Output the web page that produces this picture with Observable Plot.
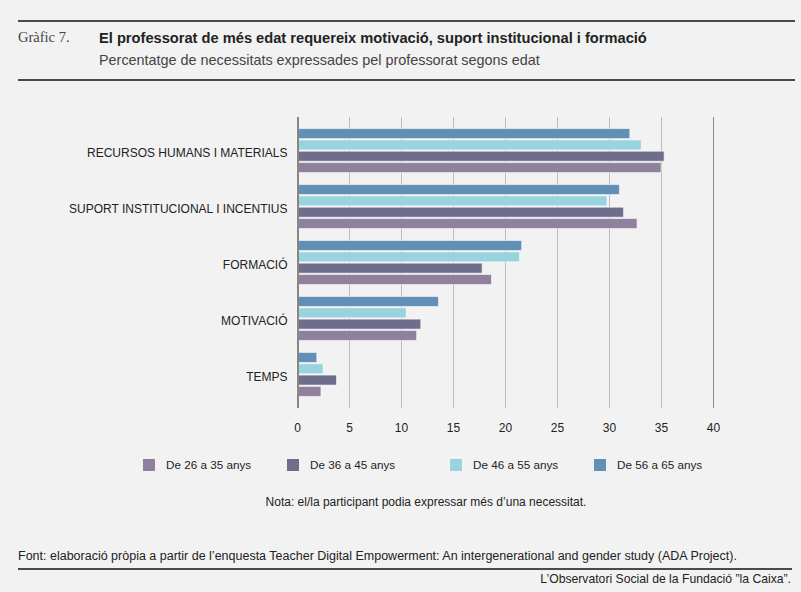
<!DOCTYPE html>
<html><head><meta charset="utf-8">
<script src="https://cdn.jsdelivr.net/npm/d3@7"></script>
<script src="https://cdn.jsdelivr.net/npm/@observablehq/plot@0.6"></script>
<style>
html,body{margin:0;padding:0;background:#f2f2f2;}
#page{position:relative;width:801px;height:592px;background:#f2f2f2;overflow:hidden;font-family:"Liberation Sans",Arial,sans-serif;color:#222;}
.rule{position:absolute;left:18px;height:2px;background:#4a4a4a;}
.t{position:absolute;white-space:nowrap;line-height:1;}
#chart{position:absolute;left:0;top:100px;}
.sw{position:absolute;width:12px;height:12px;top:459px;}
</style></head>
<body><div id="page">
<div class="rule" style="top:20px;width:777px"></div>
<div class="t" id="gnum" style="left:18px;top:30px;font-family:'Liberation Serif',serif;font-size:14.5px;color:#444">Gràfic 7.</div>
<div class="t" id="title" style="left:99px;top:30px;font-weight:bold;font-size:15.5px;color:#222;transform:scaleX(0.945);transform-origin:0 0"></div>
<div class="t" id="subtitle" style="left:99px;top:53px;font-size:14.4px;color:#444"></div>
<div class="rule" style="top:79px;width:777px"></div>
<div id="chart"></div>
<div id="legend"></div>
<div class="t" id="note" style="left:0;width:852px;text-align:center;top:496px;font-size:12px;color:#222"></div>
<div class="t" id="source" style="left:18px;top:550px;font-size:12.5px;color:#222"></div>
<div class="rule" style="top:568px;width:774px"></div>
<div class="t" id="credit" style="right:10px;top:573px;font-size:12.2px;color:#222"></div>
</div>
<script>
const titleText = "El professorat de més edat requereix motivació, suport institucional i formació";
const subtitleText = "Percentatge de necessitats expressades pel professorat segons edat";
const noteText = "Nota: el/la participant podia expressar més d’una necessitat.";
const sourceText = "Font: elaboració pròpia a partir de l’enquesta Teacher Digital Empowerment: An intergenerational and gender study (ADA Project).";
const creditText = "L’Observatori Social de la Fundació ”la Caixa”.";

const categories = ["RECURSOS HUMANS I MATERIALS", "SUPORT INSTITUCIONAL I INCENTIUS", "FORMACIÓ", "MOTIVACIÓ", "TEMPS"];
const series = ["De 26 a 35 anys", "De 36 a 45 anys", "De 46 a 55 anys", "De 56 a 65 anys"];
const values26_35 = [35.0, 32.7, 18.7, 11.5, 2.3];
const values36_45 = [35.3, 31.4, 17.8, 11.9, 3.8];
const values46_55 = [33.1, 29.8, 21.4, 10.5, 2.5];
const values56_65 = [32.0, 31.0, 21.6, 13.6, 1.9];
const seriesColors = ["#8f819e", "#6e6e8c", "#98d3de", "#628fb5"];
const xTicks = [0, 5, 10, 15, 20, 25, 30, 35, 40];

const seriesValues = [values26_35, values36_45, values46_55, values56_65];
const rows = [];
categories.forEach((c, i) => series.forEach((s, j) => rows.push({category: c, series: s, value: seriesValues[j][i]})));

document.getElementById("title").textContent = titleText;
document.getElementById("subtitle").textContent = subtitleText;
document.getElementById("note").textContent = noteText;
document.getElementById("source").textContent = sourceText;
document.getElementById("credit").textContent = creditText;

const innerTicks = xTicks.slice(1, -1);
const edgeTicks = [xTicks[xTicks.length - 1]];

const chart = Plot.plot({
  width: 801,
  height: 340,
  marginLeft: 297,
  marginRight: 88,
  marginTop: 17,
  marginBottom: 32,
  style: {background: "transparent", fontFamily: "'Liberation Sans', Arial, sans-serif", fontSize: "12px", color: "#222", overflow: "visible"},
  x: {domain: [xTicks[0], xTicks[xTicks.length - 1]], ticks: xTicks, tickSize: 0, tickPadding: 21, label: null, tickFormat: d => String(d)},
  y: {domain: series.slice().reverse(), axis: null, paddingInner: 0.118, paddingOuter: 0.53, round: false},
  fy: {domain: categories, axis: "left", label: null, tickSize: 0, tickPadding: 10, paddingInner: 0, paddingOuter: 0.1, round: false},
  color: {domain: series, range: seriesColors},
  facet: {data: rows, y: "category"},
  marks: [
    Plot.ruleX(innerTicks, {stroke: "#bdbdbd", strokeWidth: 1.3, insetTop: -6, insetBottom: -6, shapeRendering: "crispEdges"}),
    Plot.ruleX(edgeTicks, {stroke: "#8c8c8c", strokeWidth: 1.5, insetTop: -6, insetBottom: -6, shapeRendering: "crispEdges"}),
    Plot.barX(rows, {x: "value", y: "series", fill: "series", stroke: "#ffffff", strokeOpacity: 0.55, strokeWidth: 1}),
    Plot.ruleX([xTicks[0]], {stroke: "#8a8580", strokeWidth: 2, insetTop: -6, insetBottom: -6, shapeRendering: "crispEdges"})
  ]
});
document.getElementById("chart").appendChild(chart);
chart.querySelectorAll('[aria-label^="fy-axis"]').forEach(g => {
  g.querySelectorAll("text").forEach(t => { t.setAttribute("font-size", "12"); t.style.fontSize = "12px"; });
  const prev = g.getAttribute("transform") || "";
  g.setAttribute("transform", prev + " translate(0,2)");
});

const legendLeft = [143, 287, 450, 594];
const legend = document.getElementById("legend");
series.forEach((s, i) => {
  const sw = document.createElement("div");
  sw.className = "sw";
  sw.style.left = legendLeft[i] + "px";
  sw.style.background = seriesColors[i];
  legend.appendChild(sw);
  const lb = document.createElement("div");
  lb.className = "t";
  lb.style.left = (legendLeft[i] + 23) + "px";
  lb.style.top = "459px";
  lb.style.fontSize = "11.7px";
  lb.textContent = s;
  legend.appendChild(lb);
});
</script>
</body></html>
